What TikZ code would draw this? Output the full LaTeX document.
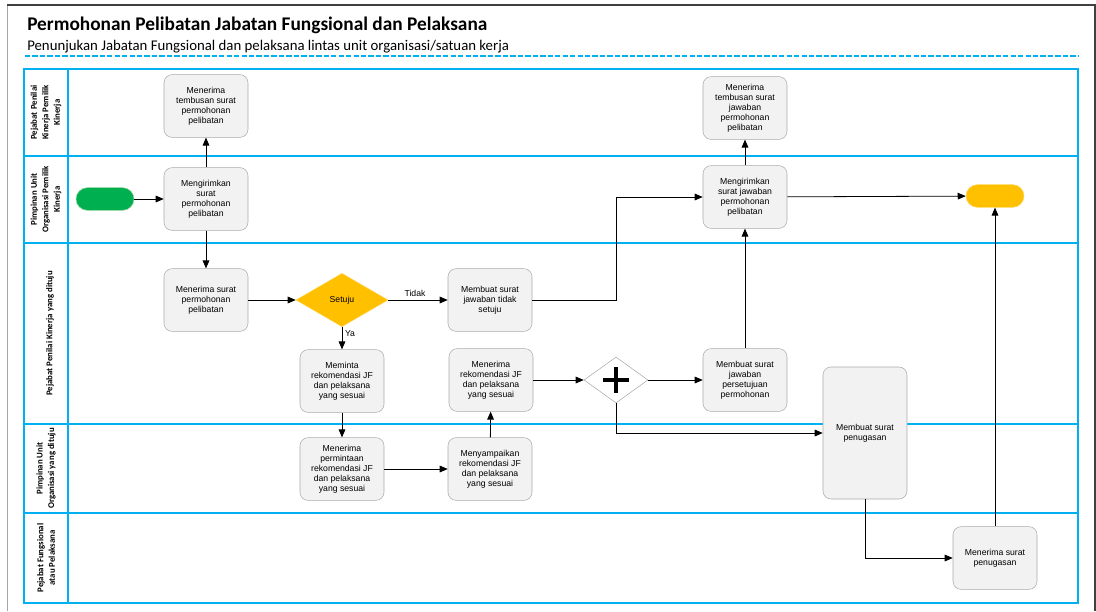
\documentclass[tikz,border=0pt]{standalone}
\usepackage{fontspec}
\setmainfont{Liberation Sans}
\newfontfamily\calibri{Carlito}
\usetikzlibrary{arrows.meta,shapes.geometric,positioning}
\definecolor{laneblue}{RGB}{0,176,240}
\definecolor{taskfill}{RGB}{242,242,242}
\definecolor{taskline}{RGB}{170,170,170}
\definecolor{startgreen}{RGB}{0,176,80}
\definecolor{endyellow}{RGB}{255,192,0}

\begin{document}
\begin{tikzpicture}[x=0.75pt,y=-0.75pt,
  lane/.style={draw=laneblue, line width=1pt},
  lanelabel/.style={rotate=90, align=center, inner sep=0pt, font=\calibri\bfseries\fontsize{6.6}{8.6}\selectfont},
  task/.style={draw=taskline, fill=taskfill, rounded corners=6pt, minimum width=63pt, minimum height=47pt, inner sep=1pt, align=center, font=\fontsize{6.5}{7.5}\selectfont},
  pill/.style={rounded corners=8.5pt, minimum width=43.5pt, minimum height=17pt, inner sep=0pt},
  flow/.style={-{Triangle[length=6pt,width=5pt]}, line width=0.6pt},
  edgelabel/.style={font=\fontsize{6.5}{8}\selectfont, inner sep=2pt}]
  \useasboundingbox (0,0) rectangle (1096,611);
  \draw[gray!70, line width=1pt] (7.5,611) -- (7.5,5);
  \draw[black!75, line width=1pt] (7,5) -- (1095,5) -- (1095,611);
  \node[anchor=base west, inner sep=0pt, font=\calibri\bfseries\fontsize{14.5}{17}\selectfont] (title) at (27,30) {Permohonan Pelibatan Jabatan Fungsional dan Pelaksana};
  \node[anchor=base west, inner sep=0pt, font=\calibri\fontsize{11.1}{13}\selectfont] (subtitle) at (27,50) {Penunjukan Jabatan Fungsional dan pelaksana lintas unit organisasi/satuan kerja};
  \draw[laneblue, line width=1.5pt, dash pattern=on 4pt off 1.6pt] (25,56) -- (1078,56);

  \draw[lane] (24,69) rectangle (1078,603);
  \foreach \y in {156,243,424,513}
    \draw[lane] (24,\y) -- (1078,\y);
  \draw[lane] (68,69) -- (68,603);
  \draw[laneblue, line width=1.8pt] (1078,69) -- (1078,603);

  \node[lanelabel] (lane1) at (46,112.5) {Pejabat Penilai\\Kinerja Pemilik\\Kinerja};
  \node[lanelabel] (lane2) at (46,199.5) {Pimpinan Unit\\Organisasi Pemilik\\Kinerja};
  \node[lanelabel] (lane3) at (50,333.5) {Pejabat Penilai Kinerja yang dituju};
  \node[lanelabel] (lane4) at (46,468.5) {Pimpinan Unit\\Organisasi yang dituju};
  \node[lanelabel] (lane5) at (46,558) {Pejabat Fungsional\\atau Pelaksana};

  \node[pill, draw=green!60!black!40, fill=startgreen] (start) at (105,199) {};
  \node[task] (tembusan) at (206,106) {Menerima\\tembusan surat\\permohonan\\pelibatan};
  \node[task] (kirim) at (206,199) {Mengirimkan\\surat\\permohonan\\pelibatan};
  \node[task] (terima) at (206,300) {Menerima surat\\permohonan\\pelibatan};
  \node[diamond, draw=endyellow!70!white, fill=endyellow, minimum width=69pt, minimum height=40pt, aspect=1.74, inner sep=0pt, font=\fontsize{6.5}{8}\selectfont] (setuju) at (342,300) {Setuju};
  \node[task] (tolak) at (490,300) {Membuat surat\\jawaban tidak\\setuju};
  \node[task] (minta) at (342,381) {Meminta\\rekomendasi JF\\dan pelaksana\\yang sesuai};
  \node[task] (terimarek) at (491,380) {Menerima\\rekomendasi JF\\dan pelaksana\\yang sesuai};
  \node[diamond, draw=taskline, fill=white, minimum width=48pt, minimum height=34.5pt, aspect=1.4, inner sep=0pt] (gabung) at (616,380) {};
  \draw[line width=3.6pt] ([xshift=-9.5pt]gabung.center) -- ([xshift=9.5pt]gabung.center);
  \draw[line width=3.6pt] ([yshift=-9.5pt]gabung.center) -- ([yshift=9.5pt]gabung.center);
  \node[task] (jawabsetuju) at (745,380) {Membuat surat\\jawaban\\persetujuan\\permohonan};
  \node[task] (tembusanjawab) at (745,108) {Menerima\\tembusan surat\\jawaban\\permohonan\\pelibatan};
  \node[task] (kirimjawab) at (745,197) {Mengirimkan\\surat jawaban\\permohonan\\pelibatan};
  \node[pill, draw=endyellow!60!white, fill=endyellow] (finish) at (995,196) {};
  \node[task, minimum height=99pt] (tugas) at (865,433) {Membuat surat\\penugasan};
  \node[task] (terimaminta) at (342,469) {Menerima\\permintaan\\rekomendasi JF\\dan pelaksana\\yang sesuai};
  \node[task] (sampaikan) at (490,469) {Menyampaikan\\rekomendasi JF\\dan pelaksana\\yang sesuai};
  \node[task] (terimatugas) at (995,558) {Menerima surat\\penugasan};

  \draw[flow] (start) -- (kirim);
  \draw[flow] (kirim) -- (tembusan);
  \draw[flow] (kirim) -- (terima);
  \draw[flow] (terima) -- (setuju);
  \draw[flow] (setuju) -- node[above, edgelabel, pos=0.45] {Tidak} (tolak);
  \draw[flow] (setuju) -- node[right, edgelabel, pos=0.3] {Ya} (minta);
  \draw[flow] (minta) -- (terimaminta);
  \draw[flow] (terimaminta) -- (sampaikan);
  \draw[flow] (sampaikan) -- (terimarek);
  \draw[flow] (terimarek) -- (gabung);
  \draw[flow] (gabung) -- (jawabsetuju);
  \draw[flow] (gabung.south) |- (tugas.west);
  \draw[flow] (jawabsetuju) -- (kirimjawab);
  \draw[flow] (tolak.east) -| (gabung.north |- kirimjawab.west) -- (kirimjawab.west);
  \draw[flow] (kirimjawab) -- (tembusanjawab);
  \draw[flow] (kirimjawab) -- (finish);
  \draw[flow] (tugas.south) |- (terimatugas.west);
  \draw[flow] (terimatugas) -- (finish);
\end{tikzpicture}
\end{document}
